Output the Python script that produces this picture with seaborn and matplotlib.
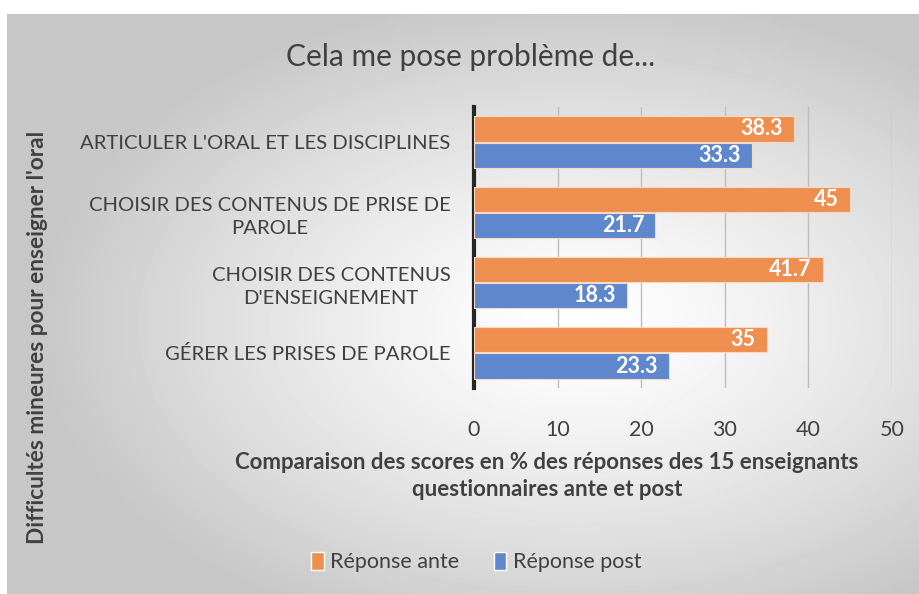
import numpy as np
import pandas as pd
import matplotlib
matplotlib.use("Agg")
import matplotlib.pyplot as plt
import seaborn as sns

# --- Data ---
categories = [
    "ARTICULER L'ORAL ET LES DISCIPLINES",
    "CHOISIR DES CONTENUS DE PRISE DE\nPAROLE",
    "CHOISIR DES CONTENUS\nD'ENSEIGNEMENT",
    "GÉRER LES PRISES DE PAROLE",
]
ante_values = [38.3, 45, 41.7, 35]
post_values = [33.3, 21.7, 18.3, 23.3]
series_names = ["Réponse ante", "Réponse post"]
x_ticks = [0, 10, 20, 30, 40, 50]

df = pd.DataFrame({
    "categorie": categories * 2,
    "score": ante_values + post_values,
    "serie": [series_names[0]] * 4 + [series_names[1]] * 4,
})

sns.set_style("white")
plt.rcParams["font.family"] = ["Lato", "DejaVu Sans"]

TEXT = "#404040"
W, H = 920, 594
fig = plt.figure(figsize=(W / 100, H / 100), dpi=100)
fig.patch.set_facecolor("white")

# --- Background: radial grey gradient like the Excel chart area ---
bg = fig.add_axes([7 / W, 0, (W - 7) / W, (H - 14) / H], zorder=-10)
yy, xx = np.mgrid[0:580, 0:913]
cx, cy = 570, 310
d = np.sqrt(((xx - cx) / 540.0) ** 2 + ((yy - cy) / 330.0) ** 2)
shade = 1.0 - 0.22 * np.clip(d, 0, 1) ** 1.3
bg.imshow(shade, cmap="gray", vmin=0, vmax=1, aspect="auto",
          extent=[0, 1, 0, 1], interpolation="bilinear")
bg.axis("off")

# --- Main axes ---
ax = fig.add_axes([474 / W, 1 - 388 / H, (892 - 474) / W, (388 - 107) / H])
ax.set_facecolor("none")

palette = {series_names[0]: "#EF8F4F", series_names[1]: "#5F87CD"}
sns.barplot(data=df, y="categorie", x="score", hue="serie", orient="h",
            palette=palette, width=0.75, gap=0.04, ax=ax, legend=False,
            edgecolor="#F6D9C6", linewidth=0.8, saturation=1, zorder=3)

for container in ax.containers:
    texts = ax.bar_label(container, labels=[f"{v:g}" for v in container.datavalues],
                         padding=-8, color="white", fontsize=15.5, fontweight="bold",
                         zorder=4)
    for t in texts:
        t.set_ha("right")

ax.set_xlim(0, 50)
ax.set_xticks(x_ticks)
ax.xaxis.grid(True, color="#BDBDBD", linewidth=1, zorder=0)
ax.set_axisbelow(True)
for s in ["top", "right", "bottom"]:
    ax.spines[s].set_visible(False)
ax.spines["left"].set_color("#262626")
ax.spines["left"].set_linewidth(3)
ax.tick_params(axis="x", length=0, labelsize=15.5, labelcolor=TEXT, pad=23)
ax.tick_params(axis="y", length=0, labelsize=14.6, labelcolor=TEXT, pad=17)
for lab in ax.get_yticklabels():
    lab.set_multialignment("center")
    lab.set_linespacing(1.45)
ax.set_xlabel("")
ax.set_ylabel("")

# --- Titles and labels ---
fig.text(471 / W, 1 - 57 / H, "Cela me pose problème de...", ha="center",
         va="center", fontsize=21.5, color=TEXT)
fig.text(547 / W, 1 - 476 / H,
         "Comparaison des scores en % des réponses des 15 enseignants\nquestionnaires ante et post",
         ha="center", va="center", fontsize=16, fontweight="bold",
         color=TEXT, linespacing=1.35)
fig.text(38 / W, 1 - 337 / H, "Difficultés mineures pour enseigner l'oral",
         ha="center", va="center", rotation=90, fontsize=16.3,
         fontweight="bold", color=TEXT)

# --- Legend ---
handles = [plt.Rectangle((0, 0), 1, 1, facecolor=palette[n]) for n in series_names]
fig.legend(handles, series_names, loc="center", bbox_to_anchor=(476 / W, 1 - 562 / H),
           ncol=2, frameon=False, fontsize=15.5, labelcolor=TEXT,
           handlelength=0.6, handleheight=0.9, handletextpad=0.3,
           columnspacing=1.6)

fig.savefig("out.png", dpi=100)
